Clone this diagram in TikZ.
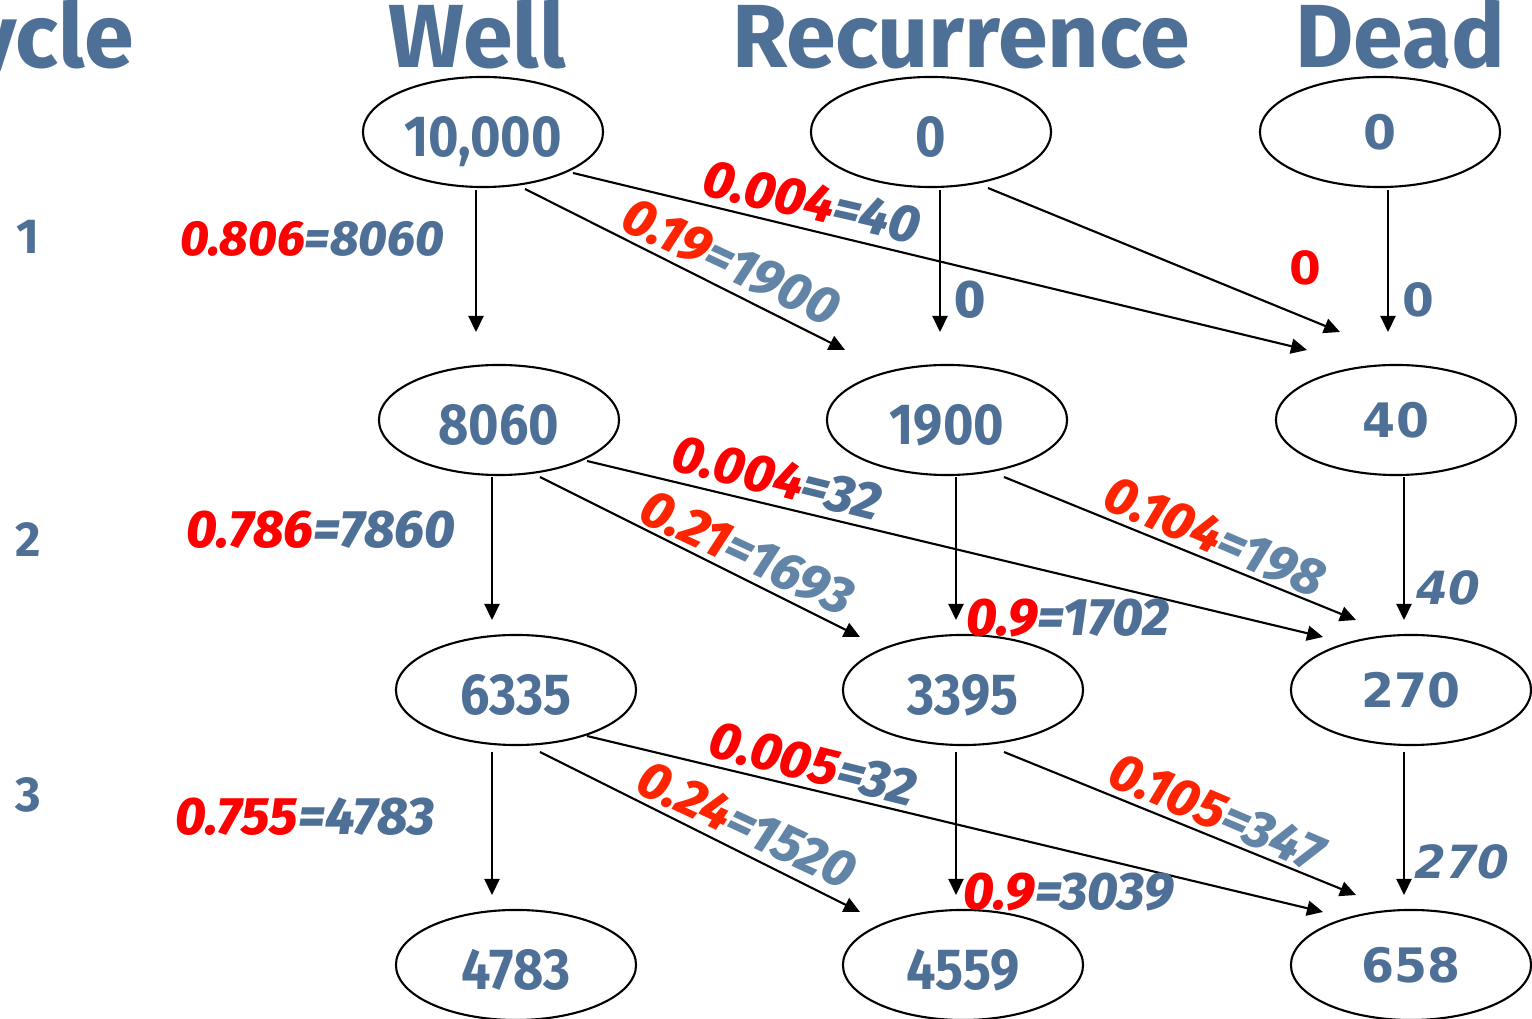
\documentclass[tikz,border=0pt]{standalone}
\usepackage{fontspec}
\setmainfont{Fira Sans}
\newfontfamily\gill[FakeStretch=0.9]{Fira Sans}
\newfontfamily\labelfont[BoldFont={Fira Sans ExtraBold}, BoldItalicFont={Fira Sans ExtraBold Italic}]{Fira Sans}
\newfontfamily\dejavu{DejaVu Sans}
\usetikzlibrary{shapes.geometric,arrows.meta,calc}
\tikzset{>={Triangle[length=0.16cm,width=0.15cm]}}
\definecolor{stateblue}{RGB}{79,112,150}
\definecolor{lightblue}{RGB}{98,133,167}
\definecolor{probred}{RGB}{255,0,0}
\definecolor{probora}{RGB}{255,36,0}

\begin{document}
\begin{tikzpicture}[
	x=0.01cm, y=-0.01cm,
	state/.style={ellipse, draw, line width=0.6pt, minimum width=2.4cm, minimum height=1.1cm,
		inner sep=0pt, text height=13.8pt, text depth=0pt, text=stateblue,
		font=\gill\fontsize{16.5}{16}\selectfont\bfseries},
	deadstate/.style={state, text height=10pt, font=\dejavu\fontsize{13.5}{14}\selectfont\bfseries},
	header/.style={anchor=base, inner sep=0pt, text=stateblue, font=\fontsize{25.5}{30}\selectfont\bfseries},
	cyclenum/.style={text=stateblue, font=\fontsize{14}{14}\selectfont\bfseries},
	flow/.style={->, line width=0.6pt},
	prob/.style={inner sep=0pt, font=\labelfont\fontsize{15}{15}\selectfont\bfseries\itshape},
	zero/.style={inner sep=0pt, text=stateblue, font=\labelfont\fontsize{15}{15}\selectfont\bfseries},
	deadprob/.style={inner sep=0pt, text=stateblue, font=\dejavu\fontsize{13}{13}\selectfont\bfseries\itshape}
]
	\useasboundingbox (0,0) rectangle (1532,1019);
	\clip (0,0) rectangle (1532,1019);

	\def\pr#1#2{\textcolor{probred}{#1}\textcolor{stateblue}{=#2}}
	\def\prl#1#2{\textcolor{probora}{#1}\textcolor{lightblue}{=#2}}

	% column heads and cycle numbers
	\node[header, anchor=base east] (hcycle) at (135,68) {Cycle};
	\node[header] (hwell) at (477,68) {Well};
	\node[header] (hrec) at (961,68) {Recurrence};
	\node[header] (hdead) at (1400,68) {Dead};
	\node[cyclenum] (c1) at (28,237) {1};
	\node[cyclenum] (c2) at (28,540) {2};
	\node[cyclenum] (c3) at (28,795) {3};

	% states, one row per cycle
	\node[state] (w0) at (483,132) {10,000};
	\node[state] (r0) at (931,132) {0};
	\node[deadstate] (d0) at (1380,132) {0};
	\node[state] (w1) at (499,420) {8060};
	\node[state] (r1) at (947,420) {1900};
	\node[deadstate] (d1) at (1396,420) {40};
	\node[state] (w2) at (516,690) {6335};
	\node[state] (r2) at (963,690) {3395};
	\node[deadstate] (d2) at (1411,690) {270};
	\node[state] (w3) at (516,965) {4783};
	\node[state] (r3) at (963,965) {4559};
	\node[deadstate] (d3) at (1411,965) {658};

	% transitions (arrows stop short of the ellipses)
	\foreach \a/\sx/\sy/\b/\ex/\ey in {
		w0/-7/58/w1/-23/-88, w0/42/57/r1/-102/-70, w0/90/41/d1/-89/-70,
		r0/9/58/r1/-7/-88, r0/57/56/d1/-56/-88, d0/8/58/d1/-8/-88,
		w1/-7/57/w2/-24/-70, w1/41/57/r2/-103/-53, w1/88/41/d2/-88/-53,
		r1/9/57/r2/-7/-70, r1/57/57/d2/-55/-70, d1/8/57/d2/-7/-70,
		w2/-24/62/w3/-24/-70, w2/24/62/r3/-103/-53, w2/71/46/d3/-88/-53,
		r2/-7/62/r3/-7/-70, r2/41/62/d3/-55/-70, d2/-7/62/d3/-7/-70}
		\draw[flow] ($(\a)+(\sx,\sy)$) -- ($(\b)+(\ex,\ey)$);

	% probabilities, cycle 1
	\node[prob, font=\labelfont\fontsize{14}{14}\selectfont\bfseries\itshape] (p01) at (312,239) {\pr{0.806}{8060}};
	\node[prob, rotate=-25] (p02) at (731,262) {\prl{0.19}{1900}};
	\node[prob, rotate=-13] (p03) at (812,202) {\pr{0.004}{40}};
	\node[zero] (p04) at (970,300) {0};
	\node[deadprob, text=probred, font=\dejavu\fontsize{13}{13}\selectfont\bfseries] (p05) at (1305,268) {0};
	\node[deadprob, font=\dejavu\fontsize{13}{13}\selectfont\bfseries] (p06) at (1418,300) {0};
	% cycle 2
	\node[prob] (p11) at (321,530) {\pr{0.786}{7860}};
	\node[prob, rotate=-14] (p12) at (777,478) {\pr{0.004}{32}};
	\node[prob, rotate=-25] (p13) at (747,553) {\prl{0.21}{1693}};
	\node[prob] (p14) at (1068,618) {\pr{0.9}{1702}};
	\node[prob, rotate=-23] (p15) at (1215,537) {\prl{0.104}{198}};
	\node[deadprob] (p16) at (1448,588) {40};
	% cycle 3
	\node[prob] (p21) at (305,817) {\pr{0.755}{4783}};
	\node[prob, rotate=-14] (p22) at (813,764) {\pr{0.005}{32}};
	\node[prob, rotate=-25] (p23) at (747,825) {\prl{0.24}{1520}};
	\node[prob] (p24) at (1069,892) {\pr{0.9}{3039}};
	\node[prob, rotate=-23] (p25) at (1217,812) {\prl{0.105}{347}};
	\node[deadprob] (p26) at (1462,862) {270};
\end{tikzpicture}
\end{document}
